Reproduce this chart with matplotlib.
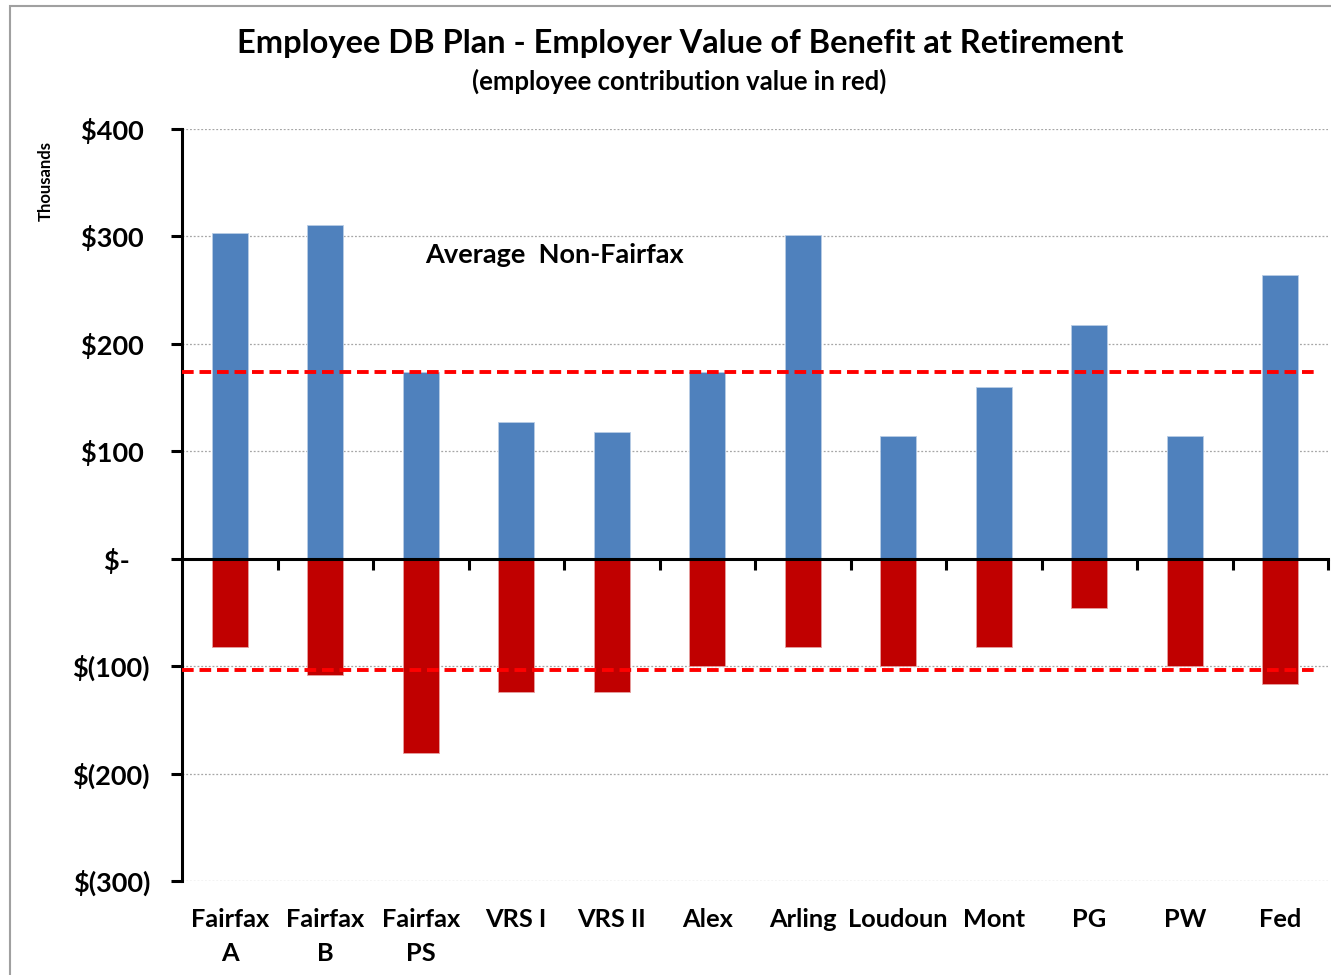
import matplotlib
matplotlib.use("Agg")
import matplotlib.pyplot as plt
from matplotlib.patches import Rectangle
import numpy as np

categories = ["Fairfax\nA", "Fairfax\nB", "Fairfax\nPS", "VRS I", "VRS II", "Alex",
              "Arling", "Loudoun", "Mont", "PG", "PW", "Fed"]
employer_value = [303, 311, 174, 127, 118, 174, 301, 114, 160, 218, 114, 264]
employee_value = [-82, -108, -181, -124, -124, -100, -82, -100, -82, -46, -100, -117]
avg_employer = 174
avg_employee = -104
yticks = [400, 300, 200, 100, 0, -100, -200, -300]
ytick_labels = ["$400 ", "$300 ", "$200 ", "$100 ", "$-   ", "$(100)", "$(200)", "$(300)"]

plt.rcParams['font.family'] = ['Lato', 'DejaVu Sans']
plt.rcParams['font.weight'] = 'bold'

fig = plt.figure(figsize=(13.31, 9.75), dpi=100)
fig.patches.append(Rectangle((10/1331, -0.2), 1.2, 1.2 - 6/975, transform=fig.transFigure,
                             fill=False, edgecolor='#A0A0A0', linewidth=1.5))
ax = fig.add_axes([182/1331, 1 - 881/975, (1328-182)/1331, (881-129)/975])

x = np.arange(len(categories))
w = 0.38
ax.bar(x, employer_value, width=w, color='#4F81BD', edgecolor='#B9CDE5', linewidth=0.6, zorder=3)
ax.bar(x, employee_value, width=w, color='#C00000', edgecolor='#E6A0A0', linewidth=0.6, zorder=3)

ax.plot([-0.5, 11.4], [avg_employer, avg_employer], color='#FF0000', lw=2.8,
        ls=(0, (3, 1.5)), zorder=4)
ax.plot([-0.5, 11.35], [avg_employee, avg_employee], color='#FF0000', lw=2.8,
        ls=(0, (3, 1.5)), zorder=4)

ax.set_xlim(-0.5, 11.5)
ax.set_ylim(-300, 400)
ax.set_yticks(yticks)
ax.set_yticklabels(ytick_labels, fontsize=19.5, fontweight='bold')
ax.yaxis.grid(True, color='#A6A6A6', linestyle=(0, (1.5, 1.5)), linewidth=0.9, zorder=0)

for s in ['top', 'right']:
    ax.spines[s].set_visible(False)
ax.spines['left'].set_linewidth(2.2)
ax.spines['bottom'].set_position(('data', 0))
ax.spines['bottom'].set_linewidth(2.2)
ax.spines['bottom'].set_zorder(5)
ax.tick_params(axis='y', length=8, width=2.2, pad=15)
ax.set_xticks(np.arange(0.5, 12, 1))
ax.set_xticklabels([])
ax.tick_params(axis='x', length=8, width=2.2, direction='out')

for xi, lab in zip(x, categories):
    ax.text(xi, -325, lab, transform=ax.transData, ha='center', va='top',
            fontsize=18.3, fontweight='bold', linespacing=1.6)

ax.text(2.05, 283, "Average  Non-Fairfax", fontsize=19.5, fontweight='bold', ha='left', va='center')

fig.text(680/1331, 1 - 44/975, "Employee DB Plan - Employer Value of Benefit at Retirement",
         ha='center', va='center', fontsize=23.5, fontweight='bold')
fig.text(679/1331, 1 - 81/975, "(employee contribution value in red)",
         ha='center', va='center', fontsize=18.5, fontweight='bold')
fig.text(46/1331, 1 - 181/975, "Thousands", rotation=90, ha='center', va='center',
         fontsize=12, fontweight='bold')

fig.savefig("out.png", dpi=100)
